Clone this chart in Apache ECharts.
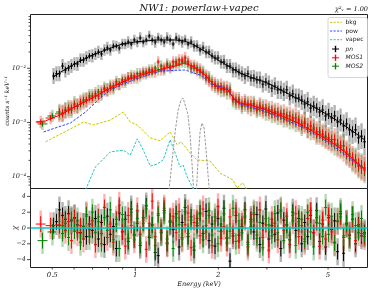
<!DOCTYPE html>
<html><head><meta charset="utf-8">
<script src="https://cdn.jsdelivr.net/npm/echarts@6/dist/echarts.min.js"></script>
<style>html,body{margin:0;padding:0;background:#fff}#c{width:374px;height:291px}</style>
</head><body><div id="c"></div>
<script>
// ---------------- DATA ----------------
const pnE = [0.5055,0.518,0.531,0.545,0.558,0.573,0.587,0.602,0.617,0.633,
0.649,0.665,0.682,0.699,0.717,0.735,0.754,0.773,0.792,0.812,
0.833,0.854,0.875,0.898,0.920,0.943,0.967,0.992,1.017,1.042,
1.069,1.096,1.124,1.152,1.181,1.211,1.242,1.273,1.305,1.338,
1.372,1.407,1.442,1.479,1.516,1.554,1.594,1.634,1.675,1.718,
1.761,1.806,1.851,1.898,1.946,1.995,2.046,2.097,2.150,2.205,
2.261,2.317,2.376,2.436,2.498,2.561,2.626,2.692,2.760,2.830,
2.901,2.975,3.050,3.127,3.206,3.287,3.370,3.455,3.542,3.632,
3.724,3.818,3.914,4.013,4.114,4.218,4.325,4.434,4.546,4.661,
4.779,4.900,5.023,5.150,5.281,5.414,5.551,5.691,5.835,5.983,
6.134,6.289,6.448,6.611,6.778];
const pnVal = [0.0072,0.0079,0.0079,0.0110,0.0093,0.0101,0.0110,0.0120,0.0120,0.0142,
0.0142,0.0155,0.0169,0.0169,0.0184,0.0200,0.0184,0.0218,0.0237,0.0218,
0.0258,0.0258,0.0237,0.0281,0.0281,0.0306,0.0281,0.0333,0.0306,0.0362,
0.0306,0.0333,0.0394,0.0333,0.0306,0.0362,0.0333,0.0306,0.0362,0.0333,
0.0281,0.0362,0.0333,0.0306,0.0333,0.0281,0.0306,0.0258,0.0258,0.0218,
0.0237,0.0200,0.0200,0.0169,0.0155,0.0155,0.0131,0.0131,0.0110,0.0110,
0.0093,0.0093,0.0085,0.0079,0.0072,0.0079,0.0066,0.0066,0.0061,0.0061,
0.0051,0.0056,0.0051,0.0043,0.0047,0.0040,0.0040,0.00366,0.0040,0.00308,
0.00336,0.00283,0.00283,0.0026,0.00219,0.00239,0.00185,0.00201,0.00185,0.00156,
0.0017,0.00132,0.00144,0.00121,0.00132,0.00102,0.00111,0.00086,0.00094,0.00073,
0.00067,0.00073,0.00052,0.00056,0.00044];
const pnErr = [.16,.15,.15,.14,.15,.14,.14,.13,.14,.13,.13,.13,.12,.13,.12,.12,.12,.11,.12,
.11,.11,.10,.11,.10,.10,.11,.10,.10,.10,.11,.10,.10,.10,.10,.11,.10,.10,.10,.11,.10,.10,.10,.10,.11,.10,.10,.11,
.11,.11,.11,.12,.12,.12,.13,.13,.13,.13,.14,.14,.14,.15,.15,.15,.15,.16,
.16,.16,.17,.17,.17,.17,.18,.18,.18,.18,.19,.19,.19,.19,.20,.20,.20,.20,.21,
.21,.21,.22,.22,.22,.23,.23,.23,.24,.24,.24,.25,.25,.26,.26,.27,.27,.28,.28,.29,.30];
const pnRes = [0.3,0.8,2.3,1.6,1.1,1.8,0.9,1.3,0.4,-0.6,
0.2,-1.1,0.5,-0.3,1.2,-1.4,0.7,-2.1,1.5,-0.8,
0.2,-2.6,1.9,-0.5,1.1,-1.7,2.4,-0.9,0.6,-2.2,
1.3,2.8,-1.2,0.4,-3.1,-3.5,-0.6,2.2,-1.9,0.9,
-0.2,1.8,-2.4,0.7,2.6,-1.1,1.4,-2.8,0.3,1.9,
-0.7,2.1,-1.6,0.5,-2.3,1.2,-0.4,2.5,-1.3,-4.2,
-1.0,1.6,-0.9,0.2,2.3,-1.8,1.1,-0.5,1.7,-2.1,
0.6,2.4,-1.4,0.3,-0.8,1.9,-2.6,1.0,0.4,-1.5,
2.0,-0.3,1.2,-2.0,0.7,-1.1,1.6,-0.6,2.2,-1.7,
0.5,-2.4,1.3,-0.2,0.9,-3.0,1.8,-3.2,0.6,-0.9,
1.1,-2.0,0.4,-1.0,-0.6];

const mos1E = [0.454,0.493,0.531,0.545,0.558,0.573,0.587,0.602,0.617,0.633,
0.649,0.665,0.682,0.699,0.717,0.735,0.754,0.773,0.792,0.812,
0.833,0.854,0.875,0.898,0.920,0.943,0.967,0.992,1.017,1.042,
1.069,1.096,1.124,1.152,1.181,1.211,1.242,1.273,1.305,1.338,
1.372,1.407,1.442,1.479,1.516,1.554,1.594,1.634,1.675,1.718,
1.761,1.806,1.851,1.898,1.946,1.995,2.046,2.097,2.150,2.205,
2.261,2.317,2.376,2.436,2.498,2.561,2.626,2.692,2.760,2.830,
2.901,2.975,3.050,3.127,3.206,3.287,3.370,3.455,3.542,3.632,
3.724,3.818,3.914,4.013,4.114,4.218,4.325,4.434,4.546,4.661,
4.779,4.900,5.023,5.150,5.281,5.414,5.551,5.691,5.835,5.983,
6.134,6.289,6.448,6.611,6.778];
const mos1Val = [0.00102,0.00121,0.00144,0.0015,0.00163,0.0017,0.00185,0.00201,0.00201,0.00239,
0.00239,0.0026,0.00283,0.00283,0.00336,0.00308,0.00366,0.0040,0.0040,0.0043,
0.0047,0.0051,0.0051,0.0056,0.0061,0.0066,0.0066,0.0072,0.0066,0.0079,
0.0079,0.0085,0.0085,0.0093,0.0085,0.0131,0.0093,0.0101,0.0110,0.0101,
0.0131,0.0120,0.0142,0.0142,0.0155,0.0131,0.0110,0.0110,0.0093,0.0093,
0.0079,0.0072,0.0061,0.0051,0.0051,0.0043,0.0047,0.0040,0.0043,0.00366,
0.00283,0.0026,0.00239,0.00219,0.00239,0.00201,0.00219,0.00201,0.00185,0.00201,
0.0017,0.00185,0.00156,0.0017,0.00144,0.00156,0.00132,0.00144,0.00121,0.00132,
0.00111,0.00121,0.00102,0.00094,0.00094,0.00079,0.00086,0.00073,0.00067,0.00061,
0.00061,0.00052,0.00052,0.00044,0.00048,0.00037,0.00037,0.00031,0.000286,0.000241,
0.000221,0.000187,0.000171,0.000145,0.000145];
const mos1Res = [0.5,0.3,0.4,0.3,-0.3,0.8,-1.6,1.2,-0.6,0.3,
-1.4,1.7,-0.2,0.9,-2.1,1.4,-0.7,2.6,-1.2,0.5,
-1.8,1.1,2.9,-0.4,-2.3,1.6,0.3,-1.5,2.2,-0.8,
1.0,-2.7,0.6,3.4,-1.1,1.8,-0.3,2.5,-2.0,0.8,
1.5,-0.6,2.1,-1.4,0.4,1.9,-2.5,0.7,1.2,-1.0,
2.4,-0.5,1.6,-2.2,0.9,2.7,-1.3,0.2,-1.9,1.4,
-0.7,2.0,-1.6,0.5,1.3,-2.4,0.8,1.7,-0.9,2.3,
-1.2,0.4,-2.8,1.1,0.6,-1.5,2.1,-0.3,1.5,-2.1,
0.9,1.8,-1.1,0.3,-1.7,1.2,2.2,-0.6,0.7,-2.3,
1.0,-1.4,1.6,-0.5,-1.8,0.8,1.4,-1.2,0.4,-0.9,
1.1,-1.6,0.2,-0.7,-1.1];

const mos2E = [0.461,0.501,0.531,0.545,0.558,0.573,0.587,0.602,0.617,0.633,
0.649,0.665,0.682,0.699,0.717,0.735,0.754,0.773,0.792,0.812,
0.833,0.854,0.875,0.898,0.920,0.943,0.967,0.992,1.017,1.042,
1.069,1.096,1.124,1.152,1.181,1.211,1.242,1.273,1.305,1.338,
1.372,1.407,1.442,1.479,1.516,1.554,1.594,1.634,1.675,1.718,
1.761,1.806,1.851,1.898,1.946,1.995,2.046,2.097,2.150,2.205,
2.261,2.317,2.376,2.436,2.498,2.561,2.626,2.692,2.760,2.830,
2.901,2.975,3.050,3.127,3.206,3.287,3.370,3.455,3.542,3.632,
3.724,3.818,3.914,4.013,4.114,4.218,4.325,4.434,4.546,4.661,
4.779,4.900,5.023,5.150,5.281,5.414,5.551,5.691,5.835,5.983,
6.134,6.289,6.448,6.611,6.778];
const mos2Val = [0.00094,0.00132,0.00156,0.00144,0.0017,0.00185,0.0017,0.00219,0.00201,0.00219,
0.0026,0.0026,0.00308,0.00308,0.00308,0.00366,0.00336,0.0043,0.0040,0.0047,
0.0043,0.0056,0.0051,0.0061,0.0056,0.0066,0.0072,0.0066,0.0079,0.0072,
0.0085,0.0079,0.0093,0.0085,0.0101,0.0093,0.0110,0.0093,0.0120,0.0110,
0.0110,0.0131,0.0120,0.0131,0.0131,0.0120,0.0101,0.0101,0.0101,0.0085,
0.0085,0.0066,0.0066,0.0056,0.0047,0.0047,0.0040,0.0043,0.00366,0.0040,
0.0026,0.00239,0.0026,0.00201,0.00219,0.00219,0.00185,0.00219,0.0017,0.00185,
0.00185,0.00156,0.0017,0.00144,0.00156,0.00132,0.00144,0.00121,0.00132,0.00111,
0.00121,0.00102,0.00111,0.00086,0.00102,0.00079,0.00073,0.00079,0.00061,0.00067,
0.00056,0.00056,0.00048,0.00048,0.0004,0.0004,0.00034,0.00037,0.000262,0.000262,
0.000203,0.000203,0.000157,0.000157,0.000133];
const mos2Res = [-1.6,-0.5,0.3,-0.7,0.6,-1.2,1.1,-0.4,0.9,-1.8,
0.2,1.5,-1.1,2.0,-0.6,0.8,-2.0,1.3,-0.3,2.3,
-1.5,0.5,-2.6,1.7,0.1,-1.3,2.0,-0.8,1.2,-1.9,
0.6,2.4,-1.0,0.3,-2.2,1.6,-0.5,1.9,-1.4,0.7,
-2.6,1.3,0.4,-1.2,2.1,-0.7,1.0,-2.3,0.6,1.7,
-1.5,0.3,2.2,-0.9,1.4,-2.0,0.5,1.8,-1.2,-0.4,
2.5,-1.7,0.9,-0.6,1.5,-2.1,0.2,1.9,-1.3,0.7,
-2.5,1.2,0.4,-1.0,1.8,-0.6,2.3,-1.6,0.3,-0.9,
1.6,-2.2,0.8,1.1,-1.4,2.0,-0.5,-2.4,1.3,0.6,
-1.1,2.6,-0.8,1.5,-1.9,0.9,2.1,-1.0,0.5,-1.3,
1.7,0.3,-0.6,1.2,-0.8];
const mosErr = [.12,.12,
.17,.17,.16,.16,.16,.16,.15,.15,.15,.15,.14,.14,.14,.14,.14,.13,.13,.13,
.13,.12,.12,.12,.12,.12,.12,.11,.11,.11,.11,.11,.11,.11,.11,.11,.11,.11,.11,.11,.11,.11,.11,.11,.12,
.12,.12,.12,.13,.13,.13,.13,.14,.14,.14,.14,.15,.15,.15,.15,.15,.16,.16,.16,.16,
.17,.17,.17,.17,.18,.18,.18,.18,.19,.19,.19,.19,.20,.20,.20,.20,.21,.21,.21,.21,
.22,.22,.22,.23,.23,.23,.24,.24,.24,.25,.25,.25,.26,.26,.27,.27,.28,.28,.29,.30];

const pnModelE = [0.505,0.536,0.602,0.699,0.799,0.898,1.0,1.2,1.395,1.503,1.607,1.806,1.995,2.205,2.397,2.604,3.0,3.484,4.013,4.509,4.984,5.508,5.983,6.505,6.778];
const pnModelV = [0.0069,0.0085,0.0120,0.0176,0.0227,0.0281,0.0306,0.0333,0.0333,0.0319,0.0281,0.0200,0.0142,0.0106,0.0082,0.0069,0.0054,0.00366,0.0025,0.00185,0.00138,0.00102,0.00076,0.00056,0.00048];
const mosModelE = [0.4386,0.473,0.501,0.536,0.602,0.699,0.799,0.898,1.0,1.201,1.395,1.503,1.607,1.718,1.806,1.914,2.028,2.168,2.242,2.317,2.397,2.604,3.0,3.484,4.013,4.509,4.984,5.508,5.983,6.505,6.778];
const mosModelV = [0.00102,0.00107,0.00121,0.00138,0.00193,0.00283,0.00415,0.0056,0.0069,0.0093,0.0110,0.0125,0.0110,0.0089,0.0072,0.0051,0.0043,0.0040,0.00308,0.0025,0.0023,0.0021,0.0017,0.00126,0.0009,0.00064,0.00048,0.00034,0.000241,0.000164,0.000139];
const powE = [0.465,0.582,0.660,0.747,0.812,0.898,1.0,1.231,1.516,1.718,1.914,2.150,2.261,2.397,3.0,4.013,4.984,5.983,6.611];
const powV = [0.00067,0.00098,0.00156,0.00283,0.0040,0.0051,0.0063,0.0089,0.0093,0.0075,0.0049,0.0043,0.00283,0.00219,0.00156,0.00083,0.00044,0.000221,0.000151];
const bkgE = [0.473,0.582,0.649,0.705,0.812,0.905,0.959,1.017,1.133,1.231,1.338,1.418,1.466,1.580,1.675,1.867,2.028,2.261,2.337,2.454,2.561];
const bkgV = [0.00044,0.00076,0.00102,0.0009,0.00111,0.00156,0.00102,0.0009,0.00052,0.00046,0.00067,0.00039,0.00044,0.000274,0.000203,0.000195,0.000117,0.000087,0.000062,0.000077,0.000052];
const vapecE = [0.660,0.717,0.812,0.905,0.959,1.017,1.069,1.133,1.201,1.262,1.338,1.395,1.454,1.491,1.542,1.607,1.648];
const vapecV = [0.000057,0.000151,0.000286,0.00031,0.00025,0.0005,0.00031,0.000157,0.000171,0.000203,0.00048,0.000274,0.000151,0.000164,0.0001,0.000065,0.000047];
const gauss1E = [1.316,1.361,1.395,1.430,1.466,1.491,1.516,1.554,1.580,1.607,1.634];
const gauss1V = [0.00004,0.000203,0.00067,0.0017,0.0026,0.00283,0.0026,0.00138,0.00059,0.000164,0.00004];
const gauss2E = [1.661,1.689,1.718,1.746,1.776,1.806,1.836,1.867];
const gauss2V = [0.00004,0.000203,0.00067,0.00098,0.00079,0.00031,0.000107,0.00004];

const xTicks = [0.5,0.6,0.7,0.8,0.9,1,2,3,4,5,6];
const xMajor = [1];
const xTickLabels = {0.5:'0.5', 1:'1', 2:'2', 5:'5'};
const yTopMajor = [1e-4,1e-3,1e-2];
const yTopLabels = ['10\u207B\u2074','10\u207B\u00B3','10\u207B\u00B2'];
const resTicks = [-4,-2,0,2,4];
const resTickLabels = ['\u22124','\u22122','0','2','4'];
const legendNames = ['bkg','pow','vapec','pn','MOS1','MOS2'];

// ---------------- CHART ----------------
const xMin = 0.417, xMax = 6.95, yMin = 6.05e-5, yMax = 0.0983, rMin = -5, rMax = 5;
const SERIF = '"DejaVu Serif", serif', SANS = '"DejaVu Sans", sans-serif';

function bins(E){
  const n=E.length, lo=[], hi=[];
  for(let i=0;i<n;i++){
    lo.push(i>0 ? Math.sqrt(E[i-1]*E[i]) : E[0]*Math.sqrt(E[0]/E[1]));
    hi.push(i<n-1 ? Math.sqrt(E[i]*E[i+1]) : E[n-1]*Math.sqrt(E[n-1]/E[n-2]));
  }
  return {lo,hi};
}
function specData(E,V,Er){
  const b=bins(E); const n=Math.min(E.length,V.length,Er.length); const d=[];
  for(let i=0;i<n;i++) d.push([E[i],V[i],Er[i],b.lo[i],b.hi[i]]);
  return d;
}
function resData(E,R){
  const b=bins(E); const n=Math.min(E.length,R.length); const d=[];
  for(let i=0;i<n;i++) d.push([E[i],R[i],b.lo[i],b.hi[i]]);
  return d;
}
function specSeries(name,data,color,halo){
  return {type:'custom',name,xAxisIndex:0,yAxisIndex:0,data,clip:true,silent:true,
    encode:{x:0,y:1},
    renderItem:function(p,api){
      const E=api.value(0),v=api.value(1),er=api.value(2),lo=api.value(3),hi=api.value(4);
      const c=api.coord([E,v]),l=api.coord([lo,v]),r=api.coord([hi,v]);
      const t=api.coord([E,v*(1+er)]),b=api.coord([E,v/(1+er)]);
      const th=api.coord([E,v*(1+2.5*er)]),bh=api.coord([E,v/(1+2.5*er)]);
      return {type:'group',children:[
        {type:'line',shape:{x1:c[0],y1:th[1],x2:c[0],y2:bh[1]},style:{stroke:halo,lineWidth:2.4}},
        {type:'line',shape:{x1:l[0],y1:c[1],x2:r[0],y2:c[1]},style:{stroke:color,lineWidth:1}},
        {type:'line',shape:{x1:c[0],y1:t[1],x2:c[0],y2:b[1]},style:{stroke:color,lineWidth:1}}
      ]};
    }};
}
function resSeries(name,data,color,halo){
  return {type:'custom',name,xAxisIndex:1,yAxisIndex:1,data,clip:true,silent:true,
    encode:{x:0,y:1},
    renderItem:function(p,api){
      const E=api.value(0),r=api.value(1),lo=api.value(2),hi=api.value(3);
      const c=api.coord([E,r]),l=api.coord([lo,r]),rr=api.coord([hi,r]);
      const t=api.coord([E,r+1]),b=api.coord([E,r-1]);
      const th=api.coord([E,r+1.7]),bh=api.coord([E,r-1.7]);
      return {type:'group',children:[
        {type:'line',shape:{x1:c[0],y1:th[1],x2:c[0],y2:bh[1]},style:{stroke:halo,lineWidth:2.4}},
        {type:'line',shape:{x1:l[0],y1:c[1],x2:rr[0],y2:c[1]},style:{stroke:color,lineWidth:1}},
        {type:'line',shape:{x1:c[0],y1:t[1],x2:c[0],y2:b[1]},style:{stroke:color,lineWidth:1}}
      ]};
    }};
}
function lineSeries(E,V,color,dash,width){
  return {type:'line',xAxisIndex:0,yAxisIndex:0,data:E.map((e,i)=>[e,V[i]]),showSymbol:false,symbol:'none',
    clip:true,silent:true,lineStyle:{color,width:width||1,type:dash?[2.6,1.4]:'solid'}};
}
const tickFont = {fontSize:6.5,fontFamily:SERIF,fontStyle:'italic',fill:'#222'};

const xTickSeries = {type:'custom',xAxisIndex:1,yAxisIndex:1,clip:false,silent:true,z:20,
  data:xTicks.map(v=>[v,rMin]),
  renderItem:function(p,api){
    const v=api.value(0); const c=api.coord([v,rMin]);
    const len = xMajor.indexOf(v)>=0 ? 3.5 : 2;
    const ch=[{type:'line',shape:{x1:c[0],y1:c[1],x2:c[0],y2:c[1]+len},style:{stroke:'#222',lineWidth:0.8}}];
    if(xTickLabels[v]) ch.push({type:'text',style:Object.assign({text:xTickLabels[v],x:c[0],y:c[1]+7.5,align:'center',verticalAlign:'middle'},tickFont,{fontSize:7})});
    return {type:'group',children:ch};
  }};
const yTopMinor=[]; [1e-5,1e-4,1e-3,1e-2].forEach(d=>{for(let k=2;k<=9;k++){const v=k*d; if(v>yMin&&v<yMax) yTopMinor.push(v);}});
const yTopTickSeries = {type:'custom',xAxisIndex:0,yAxisIndex:0,clip:false,silent:true,z:20,
  data:yTopMajor.map(v=>[xMin,v]).concat(yTopMinor.map(v=>[xMin,v])),
  renderItem:function(p,api){
    const v=api.value(1); const c=api.coord([xMin,v]);
    const mi=yTopMajor.indexOf(v);
    const len = mi>=0 ? 3.5 : 2;
    const ch=[{type:'line',shape:{x1:c[0]-len,y1:c[1],x2:c[0],y2:c[1]},style:{stroke:'#222',lineWidth:0.8}}];
    if(mi>=0) ch.push({type:'text',style:Object.assign({text:yTopLabels[mi],x:c[0]-4.5,y:c[1],align:'right',verticalAlign:'middle'},tickFont)});
    return {type:'group',children:ch};
  }};
const yResTickSeries = {type:'custom',xAxisIndex:1,yAxisIndex:1,clip:false,silent:true,z:20,
  data:resTicks.map(v=>[xMin,v]),
  renderItem:function(p,api){
    const i=p.dataIndex; const v=api.value(1); const c=api.coord([xMin,v]);
    return {type:'group',children:[
      {type:'line',shape:{x1:c[0]-3.5,y1:c[1],x2:c[0],y2:c[1]},style:{stroke:'#222',lineWidth:0.8}},
      {type:'text',style:Object.assign({text:resTickLabels[i],x:c[0]-4.5,y:c[1],align:'right',verticalAlign:'middle'},tickFont)}
    ]};
  }};

const hiddenAxis = {axisLine:{show:false},axisTick:{show:false},axisLabel:{show:false},splitLine:{show:false}};
const legendColors = ['#c8c800','#3344ff','#22c4c4','#000000','#ff0000','#008000'];
const legendHalo = [null,null,null,'rgba(0,0,0,0.3)','rgba(255,0,0,0.3)','rgba(0,128,0,0.3)'];
const legendY = [22.3,31,39.7,49,57.8,66.2];
const graphics = [
  {type:'text',style:{text:'NW1: powerlaw+vapec',x:199,y:8,align:'center',verticalAlign:'middle',fontSize:10,fontFamily:SERIF,fontStyle:'italic',fill:'#111'}},
  {type:'text',style:{text:'\u03C7\u00B2\u1D65 = 1.00',x:368,y:9,align:'right',verticalAlign:'middle',fontSize:6.5,fontFamily:SERIF,fontStyle:'italic',fill:'#111'}},
  {type:'text',style:{text:'Energy (keV)',x:199,y:284,align:'center',verticalAlign:'middle',fontSize:6.5,fontFamily:SERIF,fontStyle:'italic',fill:'#111'}},
  {type:'text',rotation:Math.PI/2,x:7,y:101,style:{text:'counts s\u207B\u00B9 keV\u207B\u00B9',x:0,y:0,align:'center',verticalAlign:'middle',fontSize:6,fontFamily:SERIF,fontStyle:'italic',fill:'#111'}},
  {type:'text',rotation:Math.PI/2,x:15,y:228,style:{text:'\u03C7',x:0,y:0,align:'center',verticalAlign:'middle',fontSize:7,fontFamily:SERIF,fontStyle:'italic',fill:'#111'}},
  {type:'rect',shape:{x:328,y:17.5,width:39.5,height:60,r:2},style:{fill:'rgba(255,255,255,0.85)',stroke:'#cccccc',lineWidth:0.8},z:100}
];
legendNames.forEach((nm,i)=>{
  const y=legendY[i];
  if(i<3){
    graphics.push({type:'line',z:101,shape:{x1:330,y1:y,x2:342,y2:y},style:{stroke:legendColors[i],lineWidth:1,lineDash:[2.2,1.3]}});
  } else {
    graphics.push({type:'line',z:101,shape:{x1:335.5,y1:y-3.5,x2:335.5,y2:y+3.5},style:{stroke:legendHalo[i],lineWidth:2.2}});
    graphics.push({type:'line',z:101,shape:{x1:332,y1:y,x2:339,y2:y},style:{stroke:legendColors[i],lineWidth:1}});
    graphics.push({type:'line',z:101,shape:{x1:335.5,y1:y-3,x2:335.5,y2:y+3},style:{stroke:legendColors[i],lineWidth:1}});
  }
  graphics.push({type:'text',z:101,style:{text:nm,x:345.5,y:y,align:'left',verticalAlign:'middle',fontSize:6,fontFamily:SANS,fontStyle:(i>=3?'italic':'normal'),fill:'#222'}});
});

const chart = echarts.init(document.getElementById('c'), null, {renderer:'canvas'});
chart.setOption({
  animation:false,
  backgroundColor:'#ffffff',
  grid:[
    {left:30.5,top:14.5,width:337,height:174,show:true,borderColor:'#222',borderWidth:1,backgroundColor:'transparent'},
    {left:30.5,top:188.5,width:337,height:79,show:true,borderColor:'#222',borderWidth:1,backgroundColor:'transparent'}
  ],
  xAxis:[
    Object.assign({type:'log',logBase:10,gridIndex:0,min:xMin,max:xMax},hiddenAxis),
    Object.assign({type:'log',logBase:10,gridIndex:1,min:xMin,max:xMax},hiddenAxis)
  ],
  yAxis:[
    Object.assign({type:'log',logBase:10,gridIndex:0,min:yMin,max:yMax},hiddenAxis),
    Object.assign({type:'value',gridIndex:1,min:rMin,max:rMax},hiddenAxis)
  ],
  graphic:graphics,
  series:[
    lineSeries(bkgE,bkgV,'#c8c800',true),
    lineSeries(vapecE,vapecV,'#22c4c4',true),
    lineSeries(gauss1E,gauss1V,'#9a9a9a',true),
    lineSeries(gauss2E,gauss2V,'#9a9a9a',true),
    lineSeries(powE,powV,'#3344ff',true),
    specSeries('MOS2',specData(mos2E,mos2Val,mosErr),'#008000','rgba(0,128,0,0.3)'),
    specSeries('MOS1',specData(mos1E,mos1Val,mosErr),'#ff0000','rgba(255,0,0,0.3)'),
    specSeries('pn',specData(pnE,pnVal,pnErr),'#000000','rgba(0,0,0,0.3)'),
    lineSeries(mosModelE,mosModelV,'#ff0000',false,1),
    lineSeries(pnModelE,pnModelV,'#000000',false,1),
    resSeries('pnr',resData(pnE,pnRes),'#000000','rgba(0,0,0,0.3)'),
    resSeries('mos1r',resData(mos1E,mos1Res),'#ff0000','rgba(255,0,0,0.3)'),
    resSeries('mos2r',resData(mos2E,mos2Res),'#008000','rgba(0,128,0,0.3)'),
    {type:'line',xAxisIndex:1,yAxisIndex:1,data:[],silent:true,
      markLine:{silent:true,symbol:'none',label:{show:false},animation:false,
        lineStyle:{color:'rgba(0,200,210,0.75)',width:2,type:'solid'},data:[{yAxis:0}]}},
    xTickSeries, yTopTickSeries, yResTickSeries
  ]
});
</script></body></html>
